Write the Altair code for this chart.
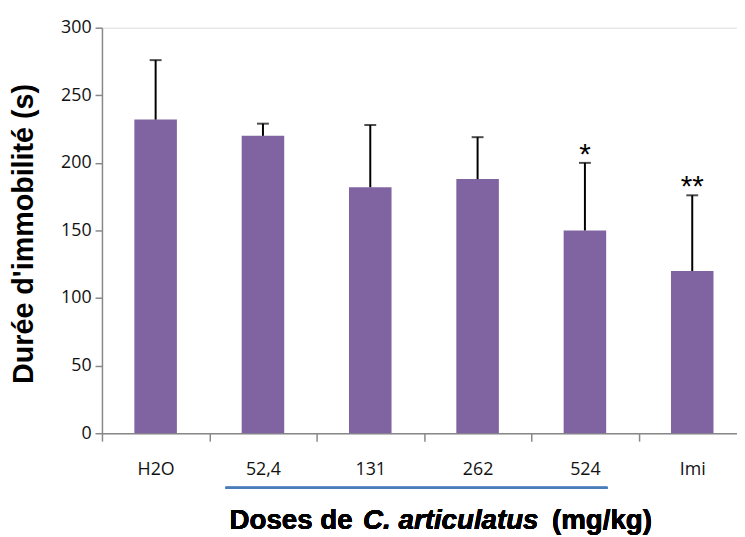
import altair as alt
import pandas as pd

categories = ["H2O", "52,4", "131", "262", "524", "Imi"]
means = [232, 220, 182, 188, 150, 120]
upper = [276, 229, 228, 219, 200, 176]
stars = ["", "", "", "", "*", "**"]

df = pd.DataFrame({"cat": categories, "mean": means, "upper": upper, "star": stars})

x = alt.X("cat:N", sort=categories,
          scale=alt.Scale(range=[0, 651], paddingInner=0, paddingOuter=0),
          axis=alt.Axis(title=None, labelAngle=0, labelFont="Open Sans", labelFontSize=18,
                        labelColor="#111", labelPadding=20, tickBand="extent",
                        tickSize=8, tickColor="#888", tickWidth=1.5,
                        domainColor="#888", domainWidth=1.5))
y_axis = alt.Axis(title="Durée d'immobilité (s)", values=[0, 50, 100, 150, 200, 250, 300],
                  grid=False, labelFont="Open Sans", labelFontSize=18, labelColor="#111",
                  labelPadding=4, tickSize=7, tickColor="#888", tickWidth=1.5,
                  domainColor="#888", domainWidth=1.5,
                  titleFont="Liberation Sans", titleFontSize=29, titleFontWeight="bold",
                  titleColor="#000", titleAngle=270, titleX=-70, titleY=208,
                  titleAlign="center", titleBaseline="alphabetic")
y = alt.Y("mean:Q", scale=alt.Scale(domain=[0, 300], nice=False), axis=y_axis)

base = alt.Chart(df)
bars = base.mark_bar(color="#8064A2", size=43).encode(x=x, y=y)
err = base.mark_rule(color="#000", strokeWidth=2).encode(x=x, y="mean:Q", y2="upper:Q")
caps = base.mark_tick(color="#000", thickness=2, size=12).encode(x=x, y="upper:Q")
star_txt = base.mark_text(fontSize=30, font="Liberation Sans", baseline="alphabetic", dy=1).encode(
    x=x, y="upper:Q", text="star:N")

line = alt.Chart(df).mark_rule(color="#4A7EBB", strokeWidth=2).encode(
    x=alt.value(125), x2=alt.value(511), y=alt.value(465))

tfont = "Liberation Sans"
ty = 507
tsize = 28
t1 = alt.Chart(df).mark_text(text="Doses de", font=tfont, fontSize=tsize, fontWeight="bold",
                             align="left", baseline="alphabetic", color="#000").encode(
    x=alt.value(129), y=alt.value(ty))
t2 = alt.Chart(df).mark_text(text="C. articulatus", font=tfont, fontSize=tsize, fontWeight="bold",
                             fontStyle="italic", align="left", baseline="alphabetic",
                             color="#000").encode(x=alt.value(264), y=alt.value(ty))
t3 = alt.Chart(df).mark_text(text="(mg/kg)", font=tfont, fontSize=tsize, fontWeight="bold",
                             align="left", baseline="alphabetic", color="#000").encode(
    x=alt.value(455), y=alt.value(ty))

chart = alt.layer(bars, err, caps, star_txt, line, t1, t2, t3).properties(
    width=642, height=410,
    autosize=alt.AutoSizeParams(type="none"),
    padding={"left": 95, "top": 17, "right": 0, "bottom": 102},
).configure_view(stroke=None).configure(background="white")

chart.save("out.html", embed_options={"renderer": "svg", "actions": False})
